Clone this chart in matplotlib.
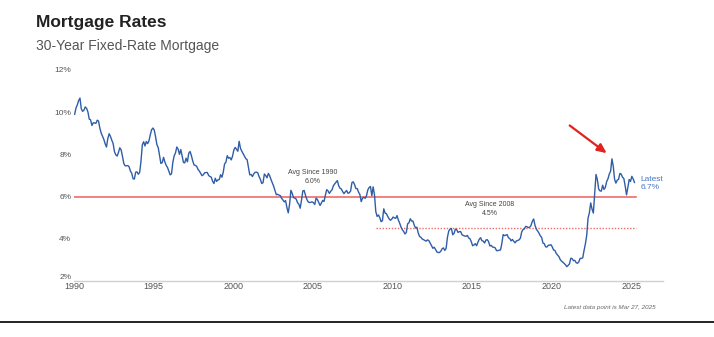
import matplotlib.pyplot as plt
import matplotlib.font_manager as fm
import numpy as np

# 30-year fixed mortgage rate, monthly, in percent
rates_1990s = [
    9.90, 10.20, 10.35, 10.55, 10.67, 10.16, 10.04, 10.10, 10.25, 10.18, 10.01, 9.67,
    9.64, 9.37, 9.50, 9.49, 9.47, 9.62, 9.58, 9.24, 9.01, 8.86, 8.71, 8.50,
    8.35, 8.76, 8.98, 8.85, 8.67, 8.51, 8.13, 7.98, 7.92, 8.09, 8.31, 8.22,
    7.92, 7.58, 7.46, 7.46, 7.47, 7.42, 7.21, 7.11, 6.85, 6.83, 7.16, 7.17,
    7.06, 7.15, 7.68, 8.45, 8.60, 8.40, 8.61, 8.51, 8.64, 8.93, 9.17, 9.25,
    9.15, 8.83, 8.46, 8.32, 7.96, 7.57, 7.61, 7.86, 7.64, 7.48, 7.38, 7.20,
    7.03, 7.08, 7.62, 7.93, 8.07, 8.35, 8.25, 8.00, 8.23, 7.92, 7.62, 7.60,
    7.82, 7.65, 8.05, 8.14, 7.94, 7.69, 7.50, 7.48, 7.43, 7.29, 7.21, 7.10,
    6.99, 7.04, 7.13, 7.14, 7.14, 7.00, 6.95, 6.92, 6.72, 6.62, 6.87, 6.72,
    6.79, 6.81, 7.04, 6.92, 7.15, 7.55, 7.63, 7.94, 7.82, 7.85, 7.74, 7.91,
]
rates_2000s = [
    8.21, 8.33, 8.24, 8.15, 8.62, 8.29, 8.15, 8.03, 7.91, 7.80, 7.75, 7.38,
    7.03, 7.05, 6.95, 7.08, 7.15, 7.16, 7.13, 6.95, 6.82, 6.62, 6.66, 7.07,
    7.00, 6.89, 7.10, 6.99, 6.81, 6.65, 6.49, 6.29, 6.09, 6.11, 6.07, 6.05,
    5.92, 5.84, 5.75, 5.81, 5.48, 5.23, 5.63, 6.30, 6.15, 5.95, 5.93, 5.88,
    5.71, 5.64, 5.45, 5.83, 6.27, 6.29, 6.06, 5.87, 5.75, 5.72, 5.73, 5.75,
    5.71, 5.63, 5.93, 5.86, 5.72, 5.58, 5.70, 5.82, 5.77, 6.07, 6.33, 6.27,
    6.15, 6.25, 6.32, 6.51, 6.60, 6.68, 6.76, 6.52, 6.40, 6.36, 6.24, 6.14,
    6.22, 6.29, 6.16, 6.18, 6.26, 6.66, 6.70, 6.57, 6.38, 6.38, 6.21, 6.10,
    5.76, 5.92, 5.97, 5.92, 6.04, 6.32, 6.43, 6.48, 6.04, 6.46, 6.09, 5.29,
    5.06, 5.13, 5.00, 4.81, 4.86, 5.42, 5.22, 5.19, 5.06, 4.95, 4.88, 4.93,
]
rates_2010s = [
    5.03, 4.99, 4.97, 5.10, 4.89, 4.74, 4.56, 4.43, 4.35, 4.23, 4.30, 4.71,
    4.76, 4.95, 4.84, 4.84, 4.64, 4.51, 4.55, 4.27, 4.11, 4.07, 3.99, 3.96,
    3.92, 3.89, 3.95, 3.91, 3.80, 3.68, 3.55, 3.60, 3.50, 3.38, 3.35, 3.35,
    3.41, 3.53, 3.57, 3.45, 3.54, 4.07, 4.37, 4.46, 4.49, 4.19, 4.26, 4.46,
    4.43, 4.30, 4.34, 4.34, 4.19, 4.16, 4.13, 4.12, 4.16, 4.04, 4.00, 3.86,
    3.67, 3.71, 3.77, 3.67, 3.84, 3.98, 4.05, 3.91, 3.89, 3.80, 3.94, 3.96,
    3.87, 3.66, 3.69, 3.61, 3.60, 3.57, 3.44, 3.44, 3.46, 3.47, 3.77, 4.20,
    4.15, 4.17, 4.20, 4.05, 4.01, 3.90, 3.97, 3.88, 3.81, 3.90, 3.92, 3.95,
    4.03, 4.33, 4.44, 4.47, 4.59, 4.57, 4.53, 4.55, 4.63, 4.83, 4.94, 4.64,
    4.46, 4.37, 4.27, 4.14, 4.07, 3.80, 3.77, 3.62, 3.61, 3.69, 3.70, 3.72,
]
rates_2020s = [
    3.62, 3.47, 3.45, 3.31, 3.23, 3.16, 3.02, 2.94, 2.89, 2.83, 2.77, 2.68,
    2.74, 2.81, 3.08, 3.06, 2.96, 2.98, 2.87, 2.84, 2.90, 3.07, 3.07, 3.10,
    3.45, 3.76, 4.17, 4.98, 5.23, 5.70, 5.41, 5.22, 6.11, 7.05, 6.81, 6.36,
    6.27, 6.26, 6.54, 6.34, 6.43, 6.71, 6.84, 7.07, 7.20, 7.79, 7.44, 6.82,
    6.64, 6.78, 6.82, 7.10, 7.06, 6.92, 6.85, 6.50, 6.08, 6.43, 6.81, 6.72,
    6.96, 6.84, 6.67,
]
latest_rate = 6.67
avg_since_1990 = 6.0
avg_since_2008 = 4.5
year_ticks = [1990, 1995, 2000, 2005, 2010, 2015, 2020, 2025]
pct_ticks = [2, 4, 6, 8, 10, 12]

rates = rates_1990s + rates_2000s + rates_2010s + rates_2020s
dates = 1990 + (np.arange(len(rates)) + 0.5) / 12
end = dates[-1] + 0.1

installed = {f.name for f in fm.fontManager.ttflist}
font = 'Liberation Sans' if 'Liberation Sans' in installed else 'DejaVu Sans'
plt.rcParams['font.family'] = [font, 'DejaVu Sans']

blue = '#2f5da6'
red = '#f06b6b'

fig = plt.figure(figsize=(7.14, 3.37), dpi=100)
ax = fig.add_axes([74 / 714, 1 - 281 / 337, (663 - 74) / 714, (281 - 70) / 337])

ax.plot(dates, rates, color=blue, lw=1.0, zorder=3)
ax.plot([1990, end], [avg_since_1990] * 2, color=red, lw=1.2, zorder=2)
ax.plot([2009, end], [avg_since_2008] * 2, color=red, lw=1.0, ls=(0, (1, 1.2)), zorder=2)

ax.set_xlim(1990, 2027)
ax.set_ylim(2, 12)
ax.set_xticks(year_ticks)
ax.set_xticklabels([str(y) for y in year_ticks])
ax.set_yticks(pct_ticks)
ax.set_yticklabels([f'{p}%' for p in pct_ticks])
ax.tick_params(axis='x', length=0, labelsize=6.5, colors='#555555', pad=1)
ax.tick_params(axis='y', length=0, labelsize=6, colors='#555555', pad=2)
# lift the bottom percent label so it sits on the axis line
ax.get_yticklabels()[0].set_verticalalignment('bottom')
for s in ['top', 'right', 'left']:
    ax.spines[s].set_visible(False)
ax.spines['bottom'].set_color('#d0d0d0')
ax.spines['bottom'].set_linewidth(1.0)

ax.text(2005.0, avg_since_1990 + 0.93, f'Avg Since 1990\n{avg_since_1990:.1f}%',
        ha='center', va='center', fontsize=5, color='#444444', linespacing=1.35)
ax.text(2016.1, avg_since_2008 + 0.9, f'Avg Since 2008\n{avg_since_2008:.1f}%',
        ha='center', va='center', fontsize=5, color='#444444', linespacing=1.35)
ax.text(2025.6, latest_rate - 0.05, f'Latest\n{latest_rate:.1f}%', ha='left', va='center',
        fontsize=6, color='#4a78c2', linespacing=1.35)

ax.annotate('', xy=(2023.6, 7.98), xytext=(2021.0, 9.45),
            arrowprops=dict(arrowstyle='-|>,head_length=0.55,head_width=0.25',
                            color='#e0231e', lw=1.6))

fig.text(36 / 714, 1 - 22 / 337, 'Mortgage Rates', fontsize=12.5, fontweight='bold',
         color='#222222', va='center')
fig.text(36 / 714, 1 - 46 / 337, '30-Year Fixed-Rate Mortgage', fontsize=10,
         color='#555555', va='center')
fig.text(610 / 714, 1 - 308 / 337, 'Latest data point is Mar 27, 2025', fontsize=4.5,
         style='italic', color='#666666', ha='center', va='center')
fig.add_artist(plt.Line2D([0, 1], [1 - 322 / 337] * 2, color='#111111', lw=1.3))

plt.savefig('out.png', dpi=100)
